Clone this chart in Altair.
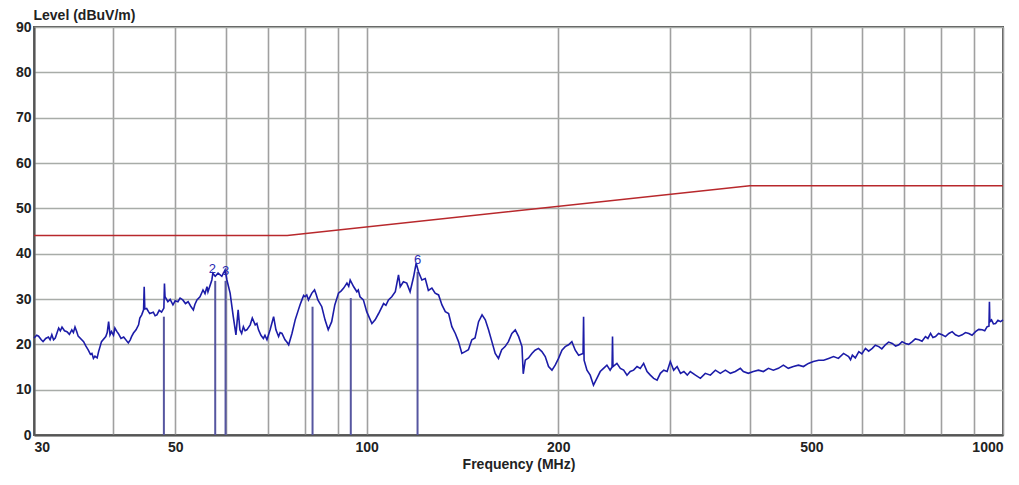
import altair as alt
import pandas as pd

# ---------------- data ----------------
trace_points = [
    (30.0, 21.4), (30.3, 22.0), (30.5, 21.8), (30.8, 21.0), (31.0, 20.6), (31.3, 21.3),
    (31.6, 21.6), (31.8, 21.0), (32.0, 22.1), (32.2, 21.0), (32.4, 21.4),
    (32.8, 23.6), (33.0, 23.0), (33.2, 23.8), (33.5, 23.0), (33.8, 22.8), (34.1, 22.2),
    (34.4, 23.2), (34.6, 22.6), (34.8, 23.8), (35.0, 22.9), (35.2, 21.8),
    (35.9, 20.6), (36.2, 19.6), (36.5, 18.8), (36.8, 17.8), (37.0, 18.0), (37.2, 16.9),
    (37.4, 17.4), (37.7, 17.0), (37.9, 18.4), (38.1, 19.5), (38.3, 20.6),
    (38.9, 21.7), (39.1, 22.6), (39.3, 25.0), (39.5, 22.1), (39.7, 22.8), (40.0, 22.0),
    (40.2, 23.6), (40.5, 22.8), (40.7, 22.4), (41.1, 21.3), (41.5, 21.6),
    (42.2, 20.3), (42.5, 21.0), (42.7, 21.7), (43.0, 22.5), (43.4, 23.2), (43.8, 24.3),
    (44.0, 25.8), (44.3, 26.5), (44.6, 27.6),
    (44.7, 32.7), (44.8, 27.8), (45.1, 27.9), (45.4, 27.2), (45.6, 26.8), (46.2, 27.1),
    (46.5, 26.3), (46.8, 26.5), (47.2, 27.5), (47.6, 27.1), (48.0, 28.0), (48.1, 33.4),
    (48.2, 30.5), (48.7, 29.4), (49.1, 29.9), (49.6, 28.7), (50.0, 29.6),
    (50.5, 29.4), (50.9, 30.2), (51.4, 29.8), (51.9, 29.0), (52.4, 29.4), (52.9, 28.4),
    (53.4, 27.6), (53.7, 28.8), (54.1, 29.8),
    (54.7, 30.5), (55.3, 32.0), (55.7, 31.2), (56.1, 32.7), (56.3, 31.6), (57.1, 34.2),
    (57.3, 35.7), (57.8, 35.0), (58.4, 35.7), (59.2, 35.0), (59.9, 36.4), (60.3, 34.2),
    (61.0, 31.3), (61.7, 26.1), (62.3, 22.1), (62.8, 27.6), (63.2, 23.2), (63.6, 22.4),
    (64.0, 23.9), (64.4, 23.0), (64.8, 23.2), (65.6, 24.3), (66.1, 25.8), (66.8, 24.3),
    (67.2, 24.6), (67.6, 23.2), (68.2, 22.0), (68.8, 21.3), (69.2, 22.0), (69.7, 21.0),
    (70.5, 23.2), (71.4, 26.1), (72.0, 23.2), (72.7, 21.7), (73.1, 22.6), (73.6, 22.4),
    (74.4, 21.0), (74.9, 20.5), (75.4, 19.9), (76.3, 22.4), (77.2, 25.4), (78.1, 27.6),
    (78.6, 28.8), (79.1, 29.8), (79.6, 30.8), (80.0, 30.5), (80.5, 30.9),
    (81.0, 29.8), (82.0, 31.3), (82.8, 32.0), (83.3, 31.0), (83.8, 29.8), (85.0, 28.3),
    (86.0, 25.4), (87.0, 23.2), (88.1, 25.0), (89.1, 28.7), (90.3, 31.3), (91.2, 31.8),
    (92.0, 32.4), (93.1, 33.5), (93.7, 32.8), (94.2, 34.2), (95.4, 32.7), (96.5, 31.6),
    (97.0, 32.0), (97.6, 30.5),
    (98.8, 29.8), (100.0, 27.2), (101.9, 24.6), (103.1, 25.4), (104.4, 26.8), (106.3, 29.0),
    (107.2, 28.6), (108.2, 29.8), (109.5, 30.5), (110.9, 31.6), (112.2, 35.3), (112.9, 32.7),
    (114.2, 33.8), (115.6, 33.5), (117.0, 31.6), (118.5, 34.9), (119.6, 37.9), (120.6, 36.0),
    (122.1, 34.2), (123.6, 34.5), (125.0, 31.9), (126.6, 32.4), (128.1, 31.3), (129.7, 30.9),
    (131.3, 28.7), (132.9, 27.2), (134.5, 26.8), (136.1, 23.9), (137.8, 22.4), (139.4, 20.6),
    (141.1, 18.0), (142.8, 18.4), (144.5, 18.8), (146.3, 21.0), (148.0, 21.4), (149.9, 25.0),
    (151.8, 26.5), (153.6, 25.4), (155.4, 23.2), (157.3, 20.6), (159.2, 18.0), (161.1, 16.9),
    (163.0, 18.8), (165.0, 19.5), (167.0, 20.6), (169.1, 22.4), (171.2, 23.2), (173.3, 21.7),
    (175.4, 19.5), (176.2, 13.5), (177.5, 16.5),
    (179.6, 17.0), (181.8, 18.0), (183.9, 18.7), (186.2, 19.1), (188.5, 18.4), (190.8, 17.3),
    (193.1, 15.1), (195.5, 14.3), (197.8, 15.4), (200.2, 16.9), (202.7, 18.7), (205.1, 19.5),
    (207.6, 19.9), (210.1, 20.6), (212.7, 18.7), (215.3, 17.6), (218.8, 18.0), (219.2, 26.1),
    (219.6, 16.5), (221.9, 14.3), (224.5, 13.2), (227.2, 11.0), (230.0, 12.5), (232.8, 14.0),
    (235.6, 14.7), (238.5, 15.4), (241.3, 14.3), (243.0, 15.0), (243.4, 21.7), (243.8, 15.1),
    (247.3, 15.8), (250.4, 14.7), (253.4, 14.3), (256.5, 13.2), (259.5, 14.0), (262.7, 14.3),
    (266.0, 15.1), (269.1, 14.7), (272.4, 15.8), (275.8, 14.0), (279.1, 13.2), (282.5, 12.5),
    (286.0, 12.1), (289.4, 13.6), (293.0, 14.3), (296.6, 14.0), (300.0, 16.2), (303.7, 14.3),
    (307.5, 15.1), (311.3, 13.6), (315.1, 14.0), (319.0, 13.2), (322.5, 14.0),
    (328.6, 13.2), (334.5, 12.5), (340.5, 13.6), (346.8, 13.2), (353.2, 14.3), (359.5, 13.6),
    (366.2, 14.3), (372.9, 13.6), (379.6, 14.0), (386.6, 14.7), (390.8, 14.0), (397.9, 13.6),
    (405.2, 14.0), (412.7, 14.3), (420.2, 14.0), (427.9, 14.7), (435.6, 14.3), (443.6, 14.7),
    (451.7, 15.4), (459.8, 14.7), (468.4, 15.1), (477.0, 15.4), (485.7, 15.1), (494.5, 15.8),
    (503.6, 16.2), (513.1, 16.5), (522.6, 16.5), (532.1, 16.9), (541.6, 17.3), (551.2, 16.9),
    (561.6, 18.0), (572.0, 17.3),
    (576.0, 16.6), (579.8, 17.6), (586.0, 17.0), (593.5, 18.4), (600.0, 17.9), (607.9, 19.1),
    (615.0, 18.5), (623.1, 19.1), (630.0, 19.8), (638.0, 19.5), (645.0, 19.0), (653.4, 19.9),
    (661.0, 20.5), (669.9, 20.2), (678.0, 19.6), (686.0, 19.9), (694.0, 20.6), (702.6, 20.2),
    (711.0, 20.0), (720.2, 20.6), (728.0, 21.2), (737.4, 21.0), (746.0, 20.7), (755.3, 21.7),
    (762.0, 21.3), (769.4, 22.4), (776.0, 21.5), (783.4, 21.7), (792.0, 22.4), (802.4, 22.1),
    (812.0, 21.7), (822.0, 22.4), (832.0, 22.8), (841.9, 22.1), (852.0, 21.8), (862.7, 22.1),
    (873.0, 22.6), (883.7, 22.4), (894.0, 22.0), (905.3, 22.8), (916.0, 23.3), (927.6, 23.2),
    (936.0, 23.0), (944.3, 23.9), (950.5, 24.0), (952.1, 29.4), (953.5, 25.0), (959.3, 25.4),
    (966.0, 24.5), (973.5, 24.6), (982.0, 25.3), (991.2, 25.0), (1000.0, 25.4),
]

limit_freq = [30, 75, 400, 1000]
limit_level = [44, 44, 55, 55]

marker_freq = [48.0, 57.8, 60.0, 82.2, 94.4, 120.2]
marker_level = [26.1, 34.0, 34.0, 28.3, 30.2, 36.0]

label_freq = [57.2, 60.0, 120.2]
label_level = [36.6, 36.2, 38.6]
label_text = ["2", "3", "6"]

grid_freq = [30, 40, 50, 60, 70, 80, 90, 100, 200, 300, 400, 500, 600, 700, 800, 900, 1000]
shown_freq = [30, 50, 100, 200, 500, 1000]
level_ticks = [0, 10, 20, 30, 40, 50, 60, 70, 80, 90]

# ---------------- tables ----------------
trace_df = pd.DataFrame(trace_points, columns=["freq", "level"])
limit_df = pd.DataFrame({"freq": limit_freq, "level": limit_level})
marker_df = pd.DataFrame({"freq": marker_freq, "level": marker_level})
label_df = pd.DataFrame({"freq": label_freq, "level": label_level, "txt": label_text})

FONT = "Liberation Sans"
shown_js = "[" + ",".join(str(v) for v in shown_freq) + "]"

x_enc = alt.X(
    "freq:Q",
    scale=alt.Scale(type="log", domain=[30, 1000], nice=False),
    axis=alt.Axis(
        values=grid_freq,
        format="d",
        labelExpr=f"indexof({shown_js}, datum.value) >= 0 ? datum.label : ''",
        title="Frequency (MHz)",
        titleFont=FONT, titleFontSize=14, titleFontWeight="bold", titleColor="#222",
        titlePadding=3,
        labelFont=FONT, labelFontSize=14, labelFontWeight="bold", labelColor="#222",
        labelPadding=5, labelFlush=True, labelOverlap=False,
        ticks=False,
        grid=True, gridColor="#a0a0a0", gridWidth=1.6,
        domainColor="#555", domainWidth=2,
    ),
)
y_enc = alt.Y(
    "level:Q",
    scale=alt.Scale(domain=[0, 90], nice=False),
    axis=alt.Axis(
        values=level_ticks,
        title="Level (dBuV/m)",
        titleAngle=0, titleAlign="left", titleBaseline="middle",
        titleX=-1, titleY=-12,
        titleFont=FONT, titleFontSize=14, titleFontWeight="bold", titleColor="#222",
        labelFont=FONT, labelFontSize=14, labelFontWeight="bold", labelColor="#222",
        labelPadding=3, ticks=False,
        grid=True, gridColor="#a8aca8", gridWidth=1.6,
        domainColor="#555", domainWidth=2,
    ),
)

limit_layer = alt.Chart(limit_df).mark_line(color="#b8282c", strokeWidth=1.5).encode(
    x=x_enc, y=y_enc
)
marker_layer = alt.Chart(marker_df).mark_rule(color="#5656a0", strokeWidth=2).encode(
    x=x_enc, y=y_enc, y2=alt.datum(0)
)
trace_layer = alt.Chart(trace_df).mark_line(color="#1c1ca8", strokeWidth=1.6).encode(
    x=x_enc, y=y_enc, order=alt.Order("freq:Q")
)
label_layer = alt.Chart(label_df).mark_text(
    color="#2a2ab4", fontSize=13, font=FONT, baseline="middle", align="center"
).encode(x=x_enc, y=y_enc, text="txt:N")

chart = (
    alt.layer(marker_layer, limit_layer, trace_layer, label_layer)
    .properties(
        width=969,
        height=408,
        background="white",
        padding={"left": 34, "top": 27, "right": 16, "bottom": 50},
        autosize=alt.AutoSizeParams(type="none"),
    )
    .configure_view(stroke="#555", strokeWidth=2)
)

chart.save("out.html", embed_options={"renderer": "svg", "actions": False})
